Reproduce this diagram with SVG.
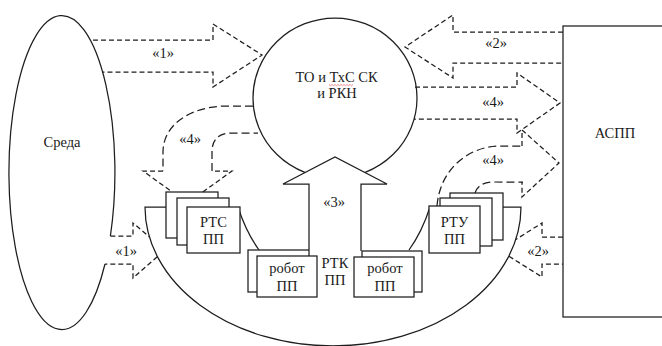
<svg xmlns="http://www.w3.org/2000/svg" width="662" height="346" viewBox="0 0 662 346">
  <style>
    .ln { fill: none; stroke: #1e1e1e; stroke-width: 1.25; }
    .box { fill: #fff; stroke: #1e1e1e; stroke-width: 1.25; }
    .dash { fill: none; stroke: #1e1e1e; stroke-width: 1.25; stroke-dasharray: 5 3; }
    .dash-long { fill: none; stroke: #1e1e1e; stroke-width: 1.25; stroke-dasharray: 8 4; }
    .block { fill: #fff; stroke: #1e1e1e; stroke-width: 1.25; }
    .t { font-family: "Liberation Serif", "Times New Roman", serif; font-size: 14.5px; fill: #1a1a1a; text-anchor: middle; }
  </style>
  <rect width="662" height="346" fill="#fff"/>

  <!-- Environment: tall ellipse, open where the lower arrow leaves it -->
  <g id="sreda">
    <path class="ln" d="M110.4,236 A53,157 0 1 0 105,264"/>
    <text class="t" x="62" y="147">Среда</text>
  </g>

  <!-- Central circle -->
  <g id="to-txs">
    <ellipse class="ln" cx="335" cy="98" rx="82" ry="80"/>
  </g>

  <!-- Robotic complex bowl with inner arcs -->
  <g id="rtk">
    <path class="ln" d="M166,207 H145 A188,139 0 0 0 521,207 H503"/>
    <path class="ln" d="M238,207 Q246,232 259,250"/>
    <path class="ln" d="M430,207 Q422,232 409,250"/>
  </g>

  <!-- RTS stack -->
  <g id="rts">
    <rect class="box" x="166" y="192" width="52" height="46"/>
    <rect class="box" x="177" y="198" width="52" height="47"/>
    <rect class="box" x="187" y="207" width="53" height="46"/>
    <text class="t" x="213.5" y="227">РТС</text>
    <text class="t" x="213.5" y="244">ПП</text>
  </g>

  <!-- RTU stack -->
  <g id="rtu">
    <rect class="box" x="450" y="193" width="53" height="47"/>
    <rect class="box" x="440" y="198" width="52" height="48"/>
    <rect class="box" x="429" y="206" width="51" height="47"/>
    <text class="t" x="454.5" y="227">РТУ</text>
    <text class="t" x="454.5" y="244">ПП</text>
  </g>

  <!-- Robot pair, left -->
  <g id="robot-left">
    <rect class="box" x="248" y="250" width="61" height="42"/>
    <rect class="box" x="257" y="256" width="60" height="41"/>
    <text class="t" x="287" y="273">робот</text>
    <text class="t" x="287" y="291">ПП</text>
  </g>

  <!-- Robot pair, right -->
  <g id="robot-right">
    <rect class="box" x="362" y="251" width="60" height="41"/>
    <rect class="box" x="354" y="257" width="60" height="40"/>
    <text class="t" x="385" y="273">робот</text>
    <text class="t" x="385" y="291">ПП</text>
  </g>

  <!-- Control system block, runs past the right edge -->
  <g id="aspp">
    <rect class="ln" x="563" y="26" width="120" height="291"/>
    <text class="t" x="615" y="138">АСПП</text>
  </g>

  <!-- Block arrows -->
  <g id="connectors">
    <!-- «1» environment to circle -->
    <path class="dash" d="M93,40 H213 V24 L262,55 L213,87 V72 H102"/>
    <!-- «2» control system to circle -->
    <path class="dash" d="M563,32 H453 V15 L405,47 L453,78 V63 H563"/>
    <!-- «4» circle to control system -->
    <path class="dash" d="M415,87 H517 V73 L560,103 L517,133 V119 H414"/>
    <!-- «4» RTU to control system -->
    <path class="dash-long" d="M437,206 C440,168 470,146 500,146 H522"/>
    <path class="dash" d="M522,146 V130 L559,163 L522,197 V182"/>
    <path class="dash-long" d="M475,193 C478,185 484,182 495,182 H523"/>
    <!-- «4» circle down to RTS -->
    <path class="dash-long" d="M253,106 H228 C190,106 163,125 163,152 V171"/>
    <path class="dash" d="M163,171 H143 L172.2,192 M202.8,192 L232,171 H212"/>
    <path class="dash-long" d="M212,171 V152 C212,140 218,133 232,133 H258"/>
    <!-- «1» environment into bowl -->
    <path class="dash" d="M110.4,236 H133 V223 L149.4,236.9 M157.3,256.7 L133,278 V264 H105"/>
    <!-- «2» control system into bowl -->
    <path class="dash" d="M563,237 H542 V223 L515.8,239.5 M508.9,256.2 L542,277 V264 H563"/>
    <!-- «3» complex up to circle -->
    <path class="block" d="M309,250 V184 H283 L335,157 L387,184 H361 V251"/>
  </g>

  <!-- Labels -->
  <g id="labels">
    <text class="t" x="336.5" y="82">ТО и ТхС СК</text>
    <path d="M329,84.5 l1.5,1.2 l1.5,-1.2 l1.5,1.2 l1.5,-1.2 l1.5,1.2 l1.5,-1.2 l1.5,1.2 l1.5,-1.2 l1.5,1.2 l1.5,-1.2 l1.5,1.2 l1.5,-1.2 l1.5,1.2 l1.5,-1.2 l1.5,1.2 l1.5,-1.2" fill="none" stroke="#e06060" stroke-width="0.7"/>
    <text class="t" x="337" y="98">и РКН</text>
    <text class="t" x="163" y="58">«1»</text>
    <text class="t" x="496" y="48">«2»</text>
    <text class="t" x="493" y="107">«4»</text>
    <text class="t" x="493" y="165">«4»</text>
    <text class="t" x="190" y="144">«4»</text>
    <text class="t" x="334" y="207">«3»</text>
    <text class="t" x="126" y="256">«1»</text>
    <text class="t" x="538" y="256">«2»</text>
    <text class="t" x="335" y="268">РТК</text>
    <text class="t" x="335" y="285">ПП</text>
  </g>
</svg>
